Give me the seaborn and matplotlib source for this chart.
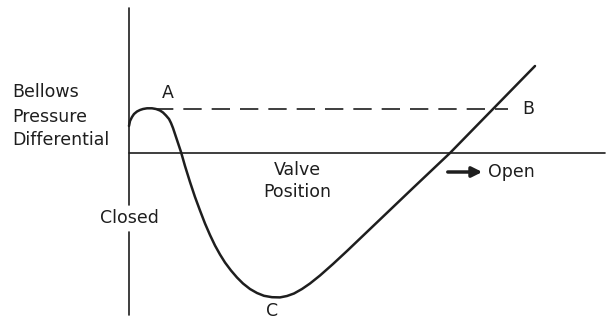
import matplotlib
matplotlib.use("Agg")
import matplotlib.pyplot as plt
import seaborn as sns
import pandas as pd

# curve: valve position vs bellows pressure differential
position = [0, 1, 3, 5, 8, 11, 14, 18, 23, 27,
            31, 34, 37, 40, 42, 44, 46, 48, 50, 52,
            56, 61, 66, 71, 76, 81, 86, 91, 96, 102,
            108, 114, 121, 128, 135, 143, 151, 158, 165, 173,
            181, 191, 204, 218, 251, 284, 321, 363, 406]
pressure = [27, 32, 36, 39, 41.5, 43, 44, 44.7, 44.7, 44,
            42.5, 40.5, 37.5, 34, 30, 25, 19, 13, 7, 1,
            -13, -29, -44, -57.5, -70.5, -82, -92.5, -101.5, -109.5, -117.5,
            -124.5, -130.5, -136, -140, -142.8, -144.2, -144.4, -143, -140.5, -136,
            -130.5, -122.5, -111, -98, -66.5, -35, 0, 43, 87]
level_ab = 44

df = pd.DataFrame({"position": position, "pressure": pressure})

sns.set_style("white")
plt.rcParams["font.family"] = ["DejaVu Sans"]
ink = "#1e1e1e"

fig = plt.figure(figsize=(6.06, 3.21), dpi=100)
ax = fig.add_axes([0, 0, 1, 1])

sns.lineplot(data=df, x="position", y="pressure", sort=False, estimator=None,
             color=ink, lw=1.8, ax=ax)
ax.lines[-1].set_solid_joinstyle("round")

# axes drawn as lines
ax.plot([0, 0], [145, -52], color=ink, lw=1.2)
ax.plot([0, 0], [-79, -162], color=ink, lw=1.2)
ax.plot([0, 476], [0, 0], color=ink, lw=1.2)
ax.plot([26, 379], [level_ab, level_ab], color=ink, lw=1.2, dashes=(11, 6))

fs = 12.5
ax.text(39, 60, "A", fontsize=fs, color=ink, ha="center", va="center")
ax.text(393, level_ab, "B", fontsize=fs, color=ink, ha="left", va="center")
ax.text(143, -167, "C", fontsize=fs, color=ink, ha="center", va="bottom")
ax.text(-117, 61, "Bellows", fontsize=fs, color=ink, ha="left", va="center")
ax.text(-117, 36, "Pressure", fontsize=fs, color=ink, ha="left", va="center")
ax.text(-117, 13, "Differential", fontsize=fs, color=ink, ha="left", va="center")
ax.text(168, -17, "Valve", fontsize=fs, color=ink, ha="center", va="center")
ax.text(168, -39, "Position", fontsize=fs, color=ink, ha="center", va="center")
ax.text(0, -65, "Closed", fontsize=fs, color=ink, ha="center", va="center")
ax.text(359, -19, "Open", fontsize=fs, color=ink, ha="left", va="center")
ax.annotate("", xy=(356, -19), xytext=(316, -19),
            arrowprops=dict(arrowstyle="-|>,head_length=0.6,head_width=0.3",
                            color=ink, lw=2.5))

ax.set_xlim(-129, 477)
ax.set_ylim(-168, 153)
ax.axis("off")

fig.savefig("out.png", dpi=100)
